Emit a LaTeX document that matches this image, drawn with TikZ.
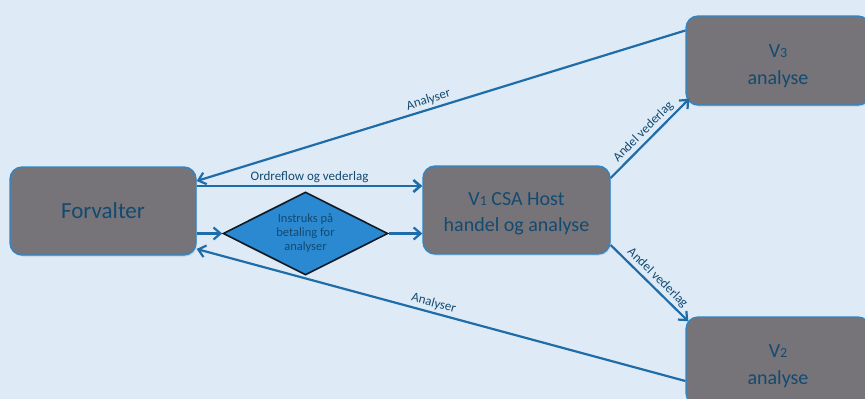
\documentclass[tikz,border=0pt]{standalone}
\usepackage{fontspec}
\setmainfont{Carlito}
\usetikzlibrary{arrows.meta,shapes.geometric,shadows}
\definecolor{bg}{HTML}{DEEBF6}
\definecolor{boxfill}{HTML}{767479}
\definecolor{boxline}{HTML}{2E86C8}
\definecolor{txt}{HTML}{134A70}
\definecolor{arr}{HTML}{1F6DA8}
\definecolor{diafill}{HTML}{2B89D1}
\definecolor{dialine}{HTML}{0E1A26}
\newcommand{\sdig}[1]{{\fontsize{14}{14}\selectfont #1}}
\begin{document}
\begin{tikzpicture}[x=1pt,y=-1pt,
  box/.style={draw=boxline, line width=1.3pt, fill=boxfill, rounded corners=12pt,
    minimum width=186pt, minimum height=88pt, inner sep=0pt, align=center, text=txt,
    drop shadow={opacity=0.25, shadow xshift=1pt, shadow yshift=-1.5pt}},
  dia/.style={shape=diamond, draw=dialine, line width=1.6pt, fill=diafill, aspect=2,
    minimum width=165pt, minimum height=83pt, inner sep=0pt, align=center, text=txt,
    font=\fontsize{12.5}{14}\selectfont},
  conn/.style={draw=arr, line width=2.2pt, -{Straight Barb[length=7pt,width=12pt]}},
  lbl/.style={text=txt, font=\fontsize{13}{15}\selectfont, inner sep=2.5pt}
]
\useasboundingbox (0,0) rectangle (865,399);
\clip (0,0) rectangle (865,399);
\fill[bg] (0,0) rectangle (865,399);

\node[box, font=\fontsize{23}{28}\selectfont] (forv) at (103,211) {Forvalter};
\node[box, minimum width=187pt, font=\fontsize{20}{26}\selectfont] (host) at (516.5,210)
  {V\sdig{1} CSA Host\rule{0pt}{20pt}\\handel og analyse};
\node[box, minimum width=184pt, minimum height=89pt, font=\fontsize{20}{27}\selectfont] (v3) at (778,60.5)
  {V\sdig{3}\rule{0pt}{24pt}\\analyse};
\node[box, minimum width=184pt, font=\fontsize{20}{27}\selectfont] (v2) at (778,361)
  {V\sdig{2}\rule{0pt}{24pt}\\analyse};
\node[dia] (d) at (305.5,233.5) {Instruks på\\betaling for\\analyser};

% Ordreflow
\draw[conn, line width=2.6pt] ([yshift=25pt]forv.east) -- ([yshift=25pt]forv.east -| host.west)
  node[lbl, midway, above, inner sep=1.5pt] {Ordreflow og vederlag};
% Forvalter -> diamond -> host
\draw[conn] (d.west -| forv.east) -- (d.west);
\draw[conn] (d.east) -- (d.east -| host.west);
% Analyser lines
\draw[conn] ([yshift=30pt]v3.west) -- ([yshift=30pt]forv.east)
  node[lbl, pos=0.52, above, sloped] {Analyser};
\draw[conn] ([yshift=-20pt]v2.west) -- ([yshift=-38pt]forv.east)
  node[lbl, pos=0.52, above, sloped] {Analyser};
% Andel vederlag
\draw[conn] ([yshift=32pt]host.east) -- ([xshift=4pt,yshift=7pt]v3.south west)
  node[lbl, midway, above, sloped] {Andel vederlag};
\draw[conn] ([yshift=-35pt]host.east) -- ([xshift=3pt,yshift=-5pt]v2.north west)
  node[lbl, pos=0.52, above, sloped] {Andel vederlag};
\end{tikzpicture}
\end{document}
